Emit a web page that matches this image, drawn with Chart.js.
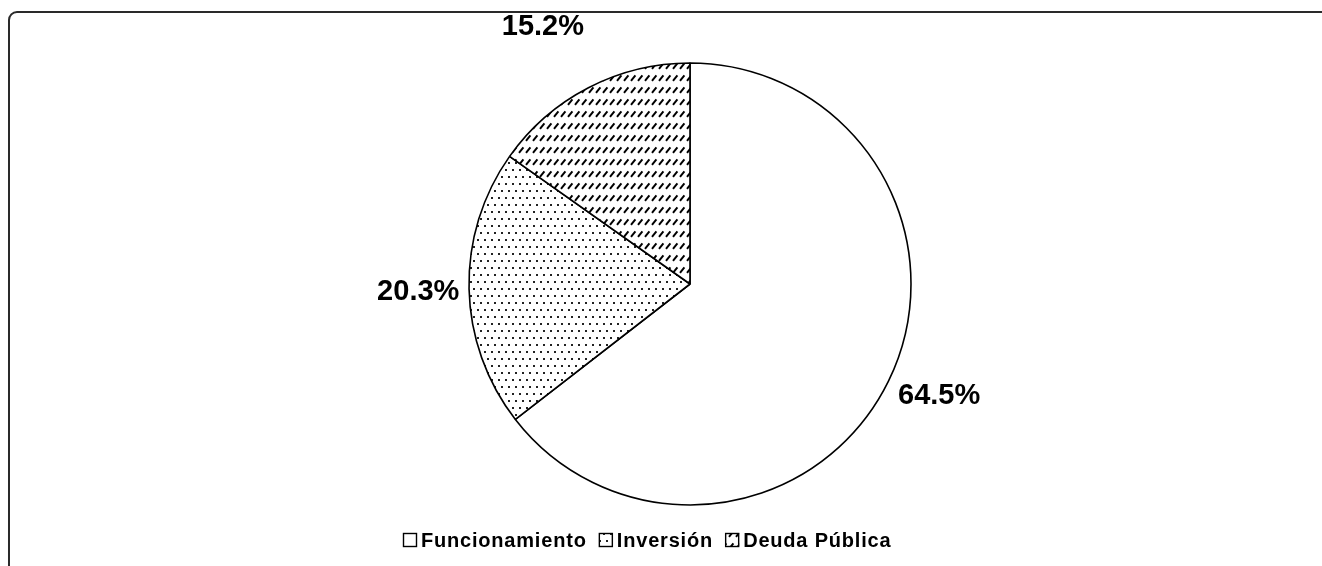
<!DOCTYPE html>
<html>
<head>
<meta charset="utf-8">
<script src="https://cdn.jsdelivr.net/npm/chart.js@4.4.1/dist/chart.umd.min.js"></script>
<style>
html,body{margin:0;padding:0;background:#fff;}
#wrap{width:1322px;height:566px;position:relative;}
canvas{display:block;}
</style>
</head>
<body>
<div id="wrap"><canvas id="c" width="1322" height="566"></canvas></div>
<script>
// ---- data ----
const categories = ['Funcionamiento', 'Inversión', 'Deuda Pública'];
const shares = [64.5, 20.3, 15.2];
const shareLabels = ['64.5%', '20.3%', '15.2%'];

// ---- fill patterns ----
function makeDots() {
  const t = document.createElement('canvas');
  t.width = 7; t.height = 14;
  const g = t.getContext('2d');
  g.fillStyle = '#fff'; g.fillRect(0, 0, 7, 14);
  g.fillStyle = '#222';
  g.fillRect(1, 1, 2, 2);
  g.fillRect(4, 8, 2, 2);
  return g.createPattern(t, 'repeat');
}
function makeHatch() {
  const t = document.createElement('canvas');
  t.width = 7; t.height = 12;
  const g = t.getContext('2d');
  g.fillStyle = '#fff'; g.fillRect(0, 0, 7, 12);
  g.strokeStyle = '#000'; g.lineWidth = 2; g.lineCap = 'butt';
  g.beginPath(); g.moveTo(1.0, 8.8); g.lineTo(5.4, 3.4); g.stroke();
  return g.createPattern(t, 'repeat');
}
const fills = ['#ffffff', makeDots(), makeHatch()];

// ---- frame plugin ----
const framePlugin = {
  id: 'frame',
  beforeDraw(chart) {
    const ctx = chart.ctx;
    ctx.save();
    ctx.fillStyle = '#fff';
    ctx.fillRect(0, 0, chart.width, chart.height);
    ctx.strokeStyle = '#2a2a2a';
    ctx.lineWidth = 2;
    ctx.beginPath();
    ctx.roundRect(9, 12, chart.width + 20, chart.height + 20, 8);
    ctx.stroke();
    ctx.restore();
  }
};

// ---- outside percentage labels ----
const labelPlugin = {
  id: 'outsideLabels',
  afterDatasetsDraw(chart, args, opts) {
    const ctx = chart.ctx;
    const meta = chart.getDatasetMeta(0);
    ctx.save();
    ctx.font = 'bold 29px "Liberation Sans", Arial, sans-serif';
    ctx.fillStyle = '#000';
    ctx.textAlign = 'center';
    ctx.textBaseline = 'middle';
    meta.data.forEach((arc, i) => {
      const p = arc.getProps(['x', 'y', 'startAngle', 'endAngle', 'outerRadius'], true);
      const mid = (p.startAngle + p.endAngle) / 2;
      const r = p.outerRadius * opts.radial[i];
      ctx.fillText(shareLabels[i], p.x + Math.cos(mid) * r + opts.dx[i], p.y + Math.sin(mid) * r + opts.dy[i]);
    });
    ctx.restore();
  }
};

// ---- legend plugin (drawn below the pie) ----
const legendPlugin = {
  id: 'bottomLegend',
  afterDraw(chart, args, opts) {
    const ctx = chart.ctx;
    const ds = chart.data.datasets[0];
    ctx.save();
    ctx.font = 'bold 20px "Liberation Sans", Arial, sans-serif';
    try { ctx.letterSpacing = opts.letterSpacing + 'px'; } catch (e) {}
    ctx.textBaseline = 'alphabetic';
    ctx.textAlign = 'left';
    let x = opts.startX;
    chart.data.labels.forEach((lab, i) => {
      ctx.fillStyle = ds.backgroundColor[i];
      ctx.fillRect(x, opts.boxTop, opts.box, opts.box);
      ctx.strokeStyle = '#000';
      ctx.lineWidth = 1.4;
      ctx.strokeRect(x + 0.5, opts.boxTop + 0.5, opts.box - 1, opts.box - 1);
      x += opts.box + opts.boxGap;
      ctx.fillStyle = '#000';
      ctx.fillText(lab, x, opts.baseline);
      x += ctx.measureText(lab).width - opts.letterSpacing + opts.itemGap;
    });
    ctx.restore();
  }
};

new Chart(document.getElementById('c'), {
  type: 'pie',
  data: {
    labels: categories,
    datasets: [{
      data: shares,
      backgroundColor: fills,
      borderColor: '#000',
      borderWidth: 1.6,
      radius: 221
    }]
  },
  options: {
    responsive: false,
    animation: false,
    devicePixelRatio: 1,
    layout: { padding: { left: 58, right: 0, top: 2, bottom: 0 } },
    plugins: {
      legend: { display: false },
      tooltip: { enabled: false },
      outsideLabels: {
        radial: [1.23, 1.23, 1.36],
        dx: [5, 0, -9],
        dy: [-8, 2, 10]
      },
      bottomLegend: {
        startX: 403, boxTop: 533, box: 14, boxGap: 4, itemGap: 13,
        baseline: 547, letterSpacing: 0.8
      }
    }
  },
  plugins: [framePlugin, labelPlugin, legendPlugin]
});
</script>
</body>
</html>
